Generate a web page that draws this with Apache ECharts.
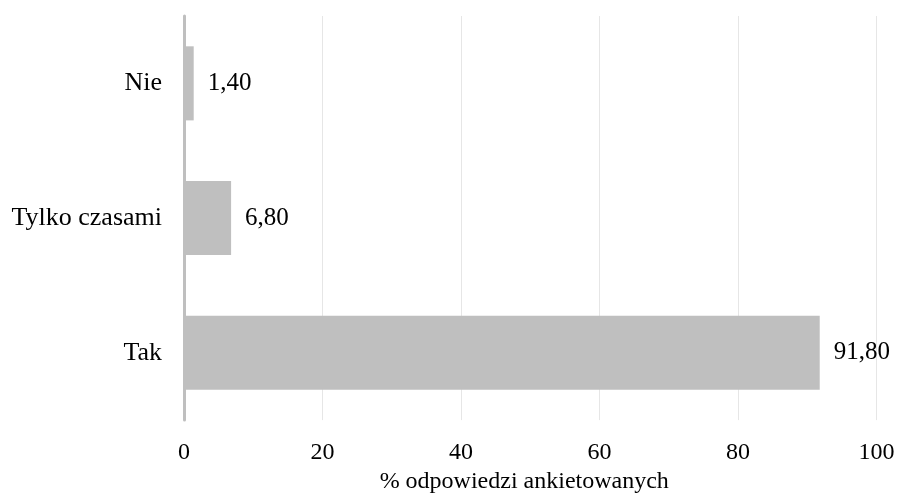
<!DOCTYPE html>
<html>
<head>
<meta charset="utf-8">
<script src="https://cdn.jsdelivr.net/npm/echarts@6/dist/echarts.min.js"></script>
<style>
  html, body { margin: 0; padding: 0; background: #ffffff; }
  #chart { width: 898px; height: 499px; }
</style>
</head>
<body>
<div id="chart"></div>
<script>
// Survey answers (share of respondents, %)
const categories = ['Tak', 'Tylko czasami', 'Nie'];
const shares = [91.8, 6.8, 1.4];
const xTicks = { min: 0, max: 100, step: 20 };
const axisTitle = '% odpowiedzi ankietowanych';

const serif = '"Liberation Serif", "Times New Roman", "DejaVu Serif", serif';

const chart = echarts.init(document.getElementById('chart'), null, { renderer: 'canvas' });

chart.setOption({
  animation: false,
  backgroundColor: '#ffffff',
  grid: { left: 184, right: 21.5, top: 16, bottom: 77, containLabel: false },
  xAxis: {
    type: 'value',
    min: xTicks.min,
    max: xTicks.max,
    interval: xTicks.step,
    name: axisTitle,
    nameLocation: 'middle',
    nameGap: 41,
    nameTextStyle: { fontFamily: serif, fontSize: 24, color: '#000000', padding: [0, 12, 0, 0] },
    axisLine: { show: false },
    axisTick: { show: false },
    axisLabel: { fontFamily: serif, fontSize: 24, color: '#000000', margin: 21 },
    splitLine: { show: true, lineStyle: { color: '#e6e6e6', width: 1 } }
  },
  yAxis: {
    type: 'category',
    data: categories,
    axisLine: { show: true, lineStyle: { color: '#bfbfbf', width: 3 } },
    axisTick: { show: false },
    axisLabel: { fontFamily: serif, fontSize: 26, color: '#000000', margin: 22 },
    splitLine: { show: false }
  },
  series: [{
    type: 'bar',
    data: shares,
    barCategoryGap: '45%',
    itemStyle: { color: '#bfbfbf' },
    label: {
      show: true,
      position: 'right',
      distance: 14,
      fontFamily: serif,
      fontSize: 25,
      color: '#000000',
      formatter: p => p.value.toFixed(2).replace('.', ',')
    }
  }]
});
</script>
</body>
</html>
